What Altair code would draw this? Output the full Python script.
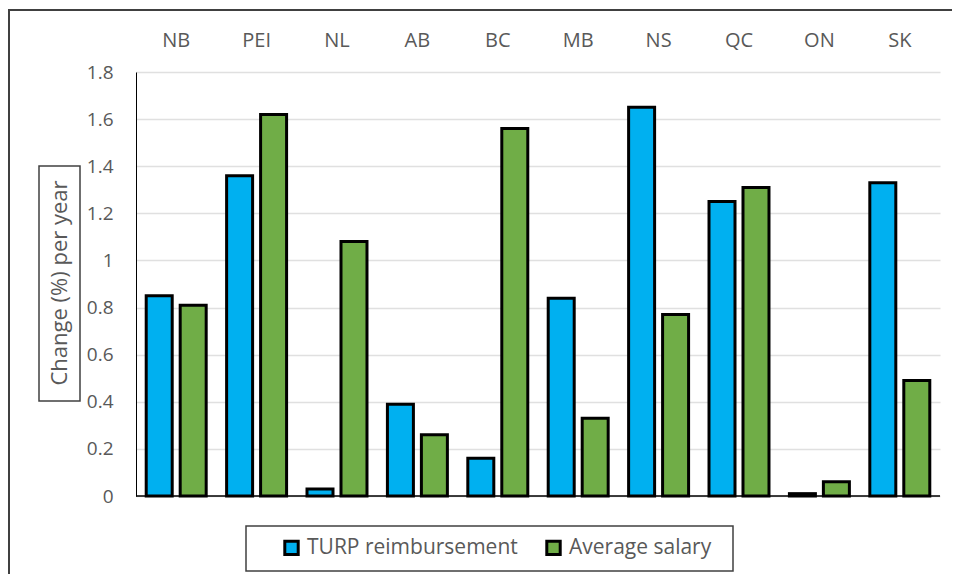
import altair as alt
import pandas as pd

provinces = ["NB", "PEI", "NL", "AB", "BC", "MB", "NS", "QC", "ON", "SK"]
turp = [0.85, 1.36, 0.03, 0.39, 0.16, 0.84, 1.65, 1.25, 0.01, 1.33]
salary = [0.81, 1.62, 1.08, 0.26, 1.56, 0.33, 0.77, 1.31, 0.06, 0.49]
series = ["TURP reimbursement", "Average salary"]
colors = ["#00B0F0", "#70AD47"]
y_ticks = [0, 0.2, 0.4, 0.6, 0.8, 1.0, 1.2, 1.4, 1.6, 1.8]
y_title = "Change (%) per year"

rows = []
for p, t, s in zip(provinces, turp, salary):
    rows.append({"province": p, "series": series[0], "value": t})
    rows.append({"province": p, "series": series[1], "value": s})
df = pd.DataFrame(rows)

FONT = "Open Sans"
GRAY = "#595959"

bars = alt.Chart(df).mark_bar(stroke="black", strokeWidth=3).encode(
    x=alt.X("province:N", sort=provinces, title=None,
            scale=alt.Scale(paddingInner=0.254, paddingOuter=0.127),
            axis=alt.Axis(orient="top", domain=False, ticks=False, labelAngle=0,
                          labelPadding=22, labelFontSize=20, labelColor=GRAY, grid=False)),
    xOffset=alt.XOffset("series:N", sort=series,
                        scale=alt.Scale(paddingInner=0.235, paddingOuter=0)),
    y=alt.Y("value:Q", title=None,
            scale=alt.Scale(domain=[0, 1.8], nice=False),
            axis=alt.Axis(values=y_ticks, format=".1~f", domain=True, domainColor="black",
                          domainWidth=1, ticks=False, labelPadding=23, labelFontSize=19,
                          labelColor=GRAY, grid=True, gridColor="#E0E0E0", gridWidth=1.5)),
    color=alt.Color("series:N", sort=series, title=None,
                    scale=alt.Scale(domain=series, range=colors),
                    legend=alt.Legend(orient="none", legendX=145, legendY=465, direction="horizontal",
                                      symbolType="square", symbolSize=180, symbolStrokeColor="black",
                                      symbolStrokeWidth=3, labelFontSize=21, labelColor=GRAY,
                                      labelLimit=400, labelOffset=5, columnPadding=22, padding=0)),
)

one = pd.DataFrame({"t": [y_title]})

baseline = alt.Chart(one).mark_rule(color="black", strokeWidth=1.5).encode(y=alt.datum(0))

border = alt.Chart(one).mark_rect(fill=None, stroke="#404040", strokeWidth=2).encode(
    x=alt.value(-127), x2=alt.value(1000), y=alt.value(-62), y2=alt.value(700))

title_box = alt.Chart(one).mark_rect(fill="white", stroke="#404040", strokeWidth=1.5).encode(
    x=alt.value(-97), x2=alt.value(-56), y=alt.value(94), y2=alt.value(329))

title_text = alt.Chart(one).mark_text(angle=270, fontSize=22, color=GRAY, font=FONT,
                                      baseline="middle", align="center").encode(
    text="t:N", x=alt.value(-76), y=alt.value(211))

legend_box = alt.Chart(one).mark_rect(fill=None, stroke="#404040", strokeWidth=1.5).encode(
    x=alt.value(110), x2=alt.value(597), y=alt.value(454), y2=alt.value(499))

chart = alt.layer(border, title_box, title_text, bars, baseline, legend_box).properties(
    width=804, height=424,
    autosize=alt.AutoSizeParams(type="none"),
    padding={"left": 128, "top": 64, "right": 12, "bottom": 78},
).configure(font=FONT).configure_view(stroke=None)

chart.save("out.html", embed_options={"renderer": "svg", "actions": False})
